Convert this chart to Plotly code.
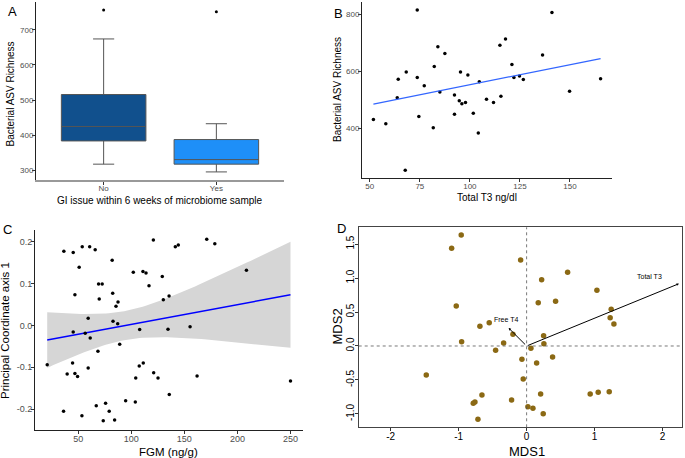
import numpy as np
import plotly.graph_objects as go

W, H = 685, 458

# ---- panel A: ASV richness by GI issue (box summary)
gi_groups = ["No", "Yes"]
gi_q1 = [384, 318]
gi_median = [425, 331]
gi_q3 = [516, 388]
gi_lower = [318, 296]
gi_upper = [674, 433]
gi_outliers = [756, 751]
gi_colors = ["#11508d", "#1e8ff8"]

# ---- panel B: richness vs total T3
t3_x = [51.8, 58.0, 63.7, 64.2, 68.2, 67.7, 73.7, 73.7, 74.5, 77.2, 81.7, 82.2, 84.0,
        85.0, 87.5, 92.3, 92.3, 94.7, 95.3, 96.0, 97.8, 99.0, 101.7, 104.2, 104.7,
        108.3, 111.8, 115.0, 115.5, 117.8, 121.0, 122.0, 124.8, 126.7, 136.3, 141.0,
        149.8, 165.3]
t3_rich = [431, 416, 507, 572, 597, 253, 815, 578, 441, 549, 402, 617, 686,
           527, 662, 517, 449, 497, 597, 486, 490, 587, 453, 383, 563,
           502, 490, 691, 512, 713, 624, 578, 583, 571, 657, 806,
           530, 574]

# ---- panel C: PCoA axis 1 vs FGM
fgm = [20.8, 36.5, 36.2, 39.6, 45.3, 46.9, 44.7, 45.3, 46.9, 49.4, 50.9, 53.5, 53.8,
       56.6, 59.4, 59.4, 60.8, 61.3, 66.0, 67.0, 68.6, 69.2, 69.8, 72.6, 73.6, 75.8,
       79.2, 82.0, 82.5, 82.8, 84.3, 85.6, 87.2, 87.5, 89.1, 94.7, 101.9, 103.8, 104.2,
       107.9, 107.5, 111.0, 111.3, 113.9, 116.7, 120.8, 121.1, 125.2, 129.2, 130.2,
       135.6, 134.6, 135.8, 141.5, 144.3, 155.4, 162.0, 171.1, 178.7, 208.5, 250.0]
pc1 = [-0.094, 0.177, -0.205, -0.116, 0.174, 0.073, -0.090, -0.016, -0.115, -0.122,
       0.139, -0.216, 0.188, -0.019, -0.102, 0.017, 0.188, -0.030, 0.181, -0.192,
       -0.062, 0.099, 0.063, 0.099, -0.228, -0.186, -0.205, 0.156, 0.077, 0.010,
       -0.226, 0.046, 0.004, 0.056, -0.045, -0.180, 0.127, -0.183, -0.126, -0.010,
       -0.097, 0.129, -0.090, 0.125, 0.095, 0.204, -0.113, -0.126, 0.117, 0.061,
       0.070, -0.009, -0.165, 0.188, 0.192, -0.003, -0.121, 0.206, 0.195, 0.132,
       -0.133]

# ---- panel D: NMDS with fitted hormone vectors
mds1 = [-0.962, -1.103, -0.088, -1.035, -0.687, -0.550, -0.201, -0.956, -0.338, -0.456,
        -1.476, -0.069, -0.050, -0.657, -0.221, -0.785, -0.760, -0.716, 0.019,
        0.221, 0.603, 1.034, 0.171, 0.426, 1.244, 1.229, 1.284, 0.250, 0.254, 0.063,
        0.382, 0.147, 0.206, 0.935, 1.053, 1.215, 0.093, 0.244]
mds2 = [1.632, 1.436, 1.265, 0.588, 0.289, 0.343, 0.172, 0.064, 0.044, -0.064,
        -0.426, -0.196, -0.485, -0.721, -0.794, -0.843, -0.824, -1.078, -0.892,
        0.975, 1.083, 0.819, 0.637, 0.657, 0.540, 0.417, 0.324, 0.152, 0.034, -0.034,
        -0.162, -0.250, -0.706, -0.706, -0.681, -0.672, -0.917, -0.995]
vec_names = ["Free T4", "Total T3"]
vec_x = [-0.265, 2.24]
vec_y = [0.265, 0.916]
vec_lab_x = [-0.30, 1.81]
vec_lab_y = [0.39, 1.02]


def px_x(p):
    return p / W


def px_y(p):
    return 1 - p / H


def ols(x, y, xs):
    x = np.asarray(x, float)
    y = np.asarray(y, float)
    b, a = np.polyfit(x, y, 1)
    n = len(x)
    resid = y - (a + b * x)
    s = np.sqrt(np.sum(resid ** 2) / (n - 2))
    sxx = np.sum((x - x.mean()) ** 2)
    se = s * np.sqrt(1 / n + (xs - x.mean()) ** 2 / sxx)
    return a + b * xs, se


fig = go.Figure()

# A
for i, g in enumerate(gi_groups):
    fig.add_trace(go.Box(
        x=[g], q1=[gi_q1[i]], median=[gi_median[i]], q3=[gi_q3[i]],
        lowerfence=[gi_lower[i]], upperfence=[gi_upper[i]],
        fillcolor=gi_colors[i], line=dict(color="#555555", width=1),
        width=0.75, whiskerwidth=0.25, boxpoints=False,
        xaxis="x", yaxis="y", showlegend=False))
fig.add_trace(go.Scatter(x=gi_groups, y=gi_outliers, mode="markers",
                         marker=dict(color="black", size=3),
                         xaxis="x", yaxis="y", showlegend=False))

# B
fig.add_trace(go.Scatter(x=t3_x, y=t3_rich, mode="markers",
                         marker=dict(color="black", size=3.5),
                         xaxis="x2", yaxis="y2", showlegend=False))
xs_b = np.linspace(min(t3_x), max(t3_x), 80)
fit_b, _ = ols(t3_x, t3_rich, xs_b)
fig.add_trace(go.Scatter(x=xs_b, y=fit_b, mode="lines",
                         line=dict(color="#3366ff", width=1.3),
                         xaxis="x2", yaxis="y2", showlegend=False))

# C
xs_c = np.linspace(min(fgm), max(fgm), 80)
fit_c, se_c = ols(fgm, pc1, xs_c)
tq = 2.001
band_x = np.concatenate([xs_c, xs_c[::-1]])
band_y = np.concatenate([fit_c + tq * se_c, (fit_c - tq * se_c)[::-1]])
fig.add_trace(go.Scatter(x=band_x, y=band_y, fill="toself", fillcolor="#d6d6d6",
                         line=dict(width=0), mode="lines",
                         xaxis="x3", yaxis="y3", showlegend=False))
fig.add_trace(go.Scatter(x=xs_c, y=fit_c, mode="lines",
                         line=dict(color="#0000ff", width=1.4),
                         xaxis="x3", yaxis="y3", showlegend=False))
fig.add_trace(go.Scatter(x=fgm, y=pc1, mode="markers",
                         marker=dict(color="black", size=3.5),
                         xaxis="x3", yaxis="y3", showlegend=False))

# D
fig.add_trace(go.Scatter(x=mds1, y=mds2, mode="markers",
                         marker=dict(color="#8b6914", size=5.5),
                         xaxis="x4", yaxis="y4", showlegend=False))
fig.add_shape(type="line", xref="x4 domain", yref="y4", x0=0, x1=1, y0=0, y1=0,
              line=dict(color="#555555", width=0.8, dash="dot"))
fig.add_shape(type="line", xref="x4", yref="y4 domain", x0=0, x1=0, y0=0, y1=1,
              line=dict(color="#555555", width=0.8, dash="dot"))
for i, name in enumerate(vec_names):
    fig.add_annotation(x=vec_x[i], y=vec_y[i], ax=0, ay=0, xref="x4", yref="y4",
                       axref="x4", ayref="y4", showarrow=True, arrowhead=2,
                       arrowsize=0.5, arrowwidth=1, arrowcolor="black", text="")
    fig.add_annotation(x=vec_lab_x[i], y=vec_lab_y[i], xref="x4", yref="y4",
                       text=name, showarrow=False,
                       font=dict(size=7, color="black"))

tick_font = dict(family="Liberation Sans, Arial", size=8, color="#4d4d4d")
base = dict(showgrid=False, zeroline=False, showline=True, linecolor="#222222",
            linewidth=1, ticks="outside", ticklen=3, tickcolor="#333333",
            tickfont=tick_font, ticklabelstandoff=-3)

fig.update_layout(
    width=W, height=H, margin=dict(l=0, r=0, t=0, b=0),
    plot_bgcolor="white", paper_bgcolor="white", boxmode="overlay",
    font=dict(family="Liberation Sans, Arial", color="black"),
    xaxis=dict(base, domain=[px_x(36), px_x(284)], anchor="y", type="category",
               range=[-0.6, 1.6], linecolor="#999999", linewidth=1.5),
    yaxis=dict(base, domain=[px_y(180), px_y(2)], anchor="x", range=[273, 779],
               tickvals=[300, 400, 500, 600, 700]),
    xaxis2=dict(base, domain=[px_x(362), px_x(612)], anchor="y2", range=[46.1, 171],
                tickvals=[50, 75, 100, 125, 150]),
    yaxis2=dict(base, domain=[px_y(178.3), px_y(2)], anchor="x2", range=[224.5, 843],
                tickvals=[400, 600, 800]),
    xaxis3=dict(base, domain=[px_x(35), px_x(302.7)], anchor="y3", range=[9.3, 261.5],
                tickvals=[50, 100, 150, 200, 250], tickfont=dict(tick_font, size=9)),
    yaxis3=dict(base, domain=[px_y(430), px_y(230)], anchor="x3", range=[-0.25, 0.228],
                tickvals=[-0.2, -0.1, 0, 0.1, 0.2],
                ticktext=["-0.2", "-0.1", "0.0", "0.1", "0.2"],
                tickfont=dict(tick_font, size=9)),
    xaxis4=dict(base, domain=[px_x(358.7), px_x(682.3)], anchor="y4", range=[-2.47, 2.29],
                tickvals=[-2, -1, 0, 1, 2], ticktext=["-2", "-1", "0", "1", "2"],
                mirror=True, linecolor="#444444", ticklen=3,
                tickfont=dict(tick_font, size=10, color="black")),
    yaxis4=dict(base, domain=[px_y(427.3), px_y(227.3)], anchor="x4", range=[-1.196, 1.746],
                tickvals=[-1, -0.5, 0, 0.5, 1, 1.5],
                ticktext=["-1.0", "-0.5", "0.0", "0.5", "1.0", "1.5"],
                tickangle=-90, mirror=True, linecolor="#444444", ticklen=3,
                tickfont=dict(tick_font, size=10, color="black")),
)

# panel letters and axis titles
labels = [
    ("A", 12, 12, 13, 0), ("B", 338, 13, 13, 0), ("C", 7, 229, 13, 0), ("D", 341, 228, 13, 0),
    ("Bacterial ASV Richness", 9.5, 94, 10, -90),
    ("GI issue within 6 weeks of microbiome sample", 160, 200, 10, 0),
    ("Bacterial ASV Richness", 337, 90, 10, -90),
    ("Total T3 ng/dl", 487, 197.5, 10, 0),
    ("Principal Coordinate axis 1", 5, 331, 11.5, -90),
    ("FGM (ng/g)", 168, 452, 11.5, 0),
    ("MDS2", 336.5, 327, 13, -90),
    ("MDS1", 527, 451, 13, 0),
]
for txt, x, y, size, ang in labels:
    fig.add_annotation(x=px_x(x), y=px_y(y), xref="paper", yref="paper", text=txt,
                       showarrow=False, textangle=ang, xanchor="center", yanchor="middle",
                       font=dict(size=size, color="black"))

# page body has an 8px default margin; drop it so the figure sits at 0,0
fig.write_html("out.html", config={"displayModeBar": False},
               post_script="document.body.style.margin='0';")
